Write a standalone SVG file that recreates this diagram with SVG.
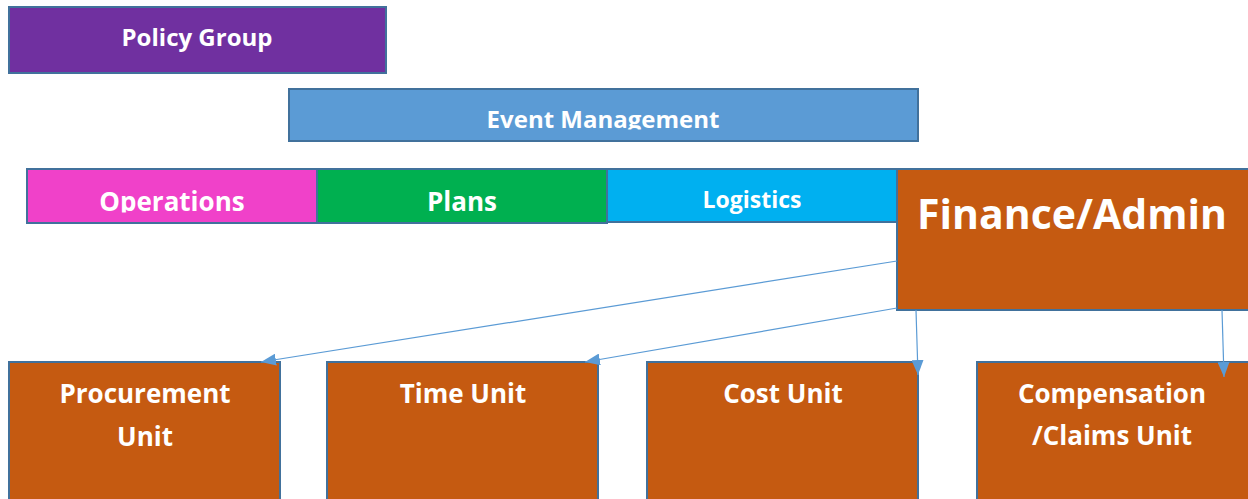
<svg xmlns="http://www.w3.org/2000/svg" width="1248" height="499" viewBox="0 0 1248 499">
<style>
.box{stroke:#41719C;stroke-width:2}
.t{font-family:"Open Sans","Liberation Sans",sans-serif;font-weight:bold;fill:#fff;text-anchor:middle}
.conn{stroke:#5B9BD5;stroke-width:1.2;fill:none;marker-end:url(#arr)}
</style>
<defs>
<marker id="arr" markerUnits="userSpaceOnUse" viewBox="0 0 15 12" refX="15" refY="6" markerWidth="15" markerHeight="12" orient="auto">
<path d="M0,0 L15,6 L0,12 Z" fill="#5B9BD5"/>
</marker>
<clipPath id="cEvent"><rect x="289" y="89" width="629" height="40.5"/></clipPath>
<clipPath id="cOps"><rect x="27" y="169" width="290" height="43.5"/></clipPath>
</defs>
<rect width="1248" height="499" fill="#fff"/>
<g id="policy-group">
<rect class="box" x="9" y="7" width="377" height="66" fill="#7030A0"/>
<text class="t" x="197" y="46" font-size="24">Policy Group</text>
</g>
<g id="event-management">
<rect class="box" x="289" y="89" width="629" height="52" fill="#5B9BD5"/>
<text class="t" x="603" y="128" font-size="24" clip-path="url(#cEvent)">Event Management</text>
</g>
<g id="operations">
<rect class="box" x="27" y="169" width="290" height="54" fill="#F041C9"/>
<text class="t" x="172" y="211" font-size="26" clip-path="url(#cOps)">Operations</text>
</g>
<g id="plans">
<rect class="box" x="317" y="169" width="290" height="54" fill="#00B050"/>
<text class="t" x="462" y="211" font-size="26">Plans</text>
</g>
<g id="logistics">
<rect class="box" x="607" y="169" width="291" height="53" fill="#00B0F0"/>
<text class="t" x="752" y="208" font-size="23">Logistics</text>
</g>
<g id="finance-admin">
<rect class="box" x="897" y="169" width="352" height="141" fill="#C55A11"/>
<text class="t" x="1072" y="229" font-size="41">Finance/Admin</text>
</g>
<g id="procurement-unit">
<rect class="box" x="9" y="362" width="271" height="140" fill="#C55A11"/>
<text class="t" x="145" y="403" font-size="26">Procurement</text>
<text class="t" x="145" y="446" font-size="26">Unit</text>
</g>
<g id="time-unit">
<rect class="box" x="327" y="362" width="271" height="140" fill="#C55A11"/>
<text class="t" x="463" y="403" font-size="26">Time Unit</text>
</g>
<g id="cost-unit">
<rect class="box" x="647" y="362" width="271" height="140" fill="#C55A11"/>
<text class="t" x="783" y="403" font-size="26">Cost Unit</text>
</g>
<g id="compensation-claims-unit">
<rect class="box" x="977" y="362" width="272" height="140" fill="#C55A11"/>
<text class="t" x="1112" y="403" font-size="26">Compensation</text>
<text class="t" x="1112" y="445" font-size="26">/Claims Unit</text>
</g>
<g id="connectors">
<line class="conn" x1="897" y1="261" x2="261" y2="362"/>
<line class="conn" x1="897" y1="308" x2="585" y2="362"/>
<line class="conn" x1="916" y1="310" x2="918" y2="375"/>
<line class="conn" x1="1222" y1="310" x2="1224" y2="377"/>
</g>
</svg>
